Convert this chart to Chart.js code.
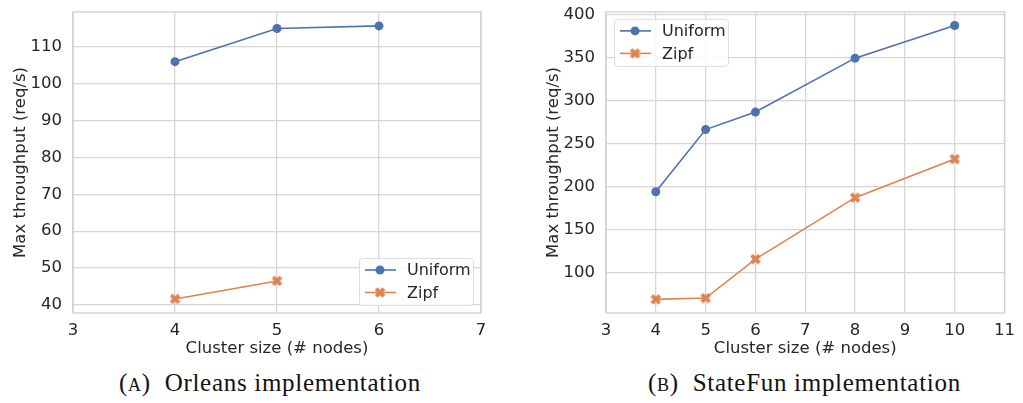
<!DOCTYPE html>
<html>
<head>
<meta charset="utf-8">
<script src="https://cdn.jsdelivr.net/npm/chart.js@4"></script>
<style>
  html, body { margin: 0; padding: 0; background: #fff; }
  body { width: 1023px; height: 403px; position: relative; overflow: hidden; }
  .box { position: absolute; top: -9px; }
  .cap { position: absolute; top: 369px; font-family: 'Liberation Serif', serif; font-size: 25px; letter-spacing: 0.7px; color: #111; white-space: pre; }
  .sc { font-size: 18px; }
</style>
</head>
<body>
<div class="box" style="left:0; width:500px; height:374px;"><canvas id="orleans"></canvas></div>
<div class="box" style="left:520px; width:503px; height:374px;"><canvas id="statefun"></canvas></div>
<div class="cap" style="left:119px;">(<span class="sc">A</span>)  Orleans implementation</div>
<div class="cap" style="left:648px;">(<span class="sc">B</span>)  StateFun implementation</div>
<script>
// Orleans (left panel)
const orleansNodes = [4, 5, 6];
const orleansUniform = [106.0, 115.0, 115.7];
const orleansZipfNodes = [4, 5];
const orleansZipf = [41.6, 46.5];
const orleansYTicks = [40, 50, 60, 70, 80, 90, 100, 110];

// StateFun (right panel)
const statefunNodes = [4, 5, 6, 8, 10];
const statefunUniform = [194, 266.4, 286.8, 349.6, 387.6];
const statefunZipf = [68.6, 70.1, 115.5, 187.1, 232.1];
const statefunYTicks = [100, 150, 200, 250, 300, 350, 400];

const COLORS = { blue: '#4c72b0', orange: '#dd8452', text: '#262626', grid: '#d6d6d6' };
const FONT = "'DejaVu Sans', sans-serif";
const FS = 16.5;

// filled "X" marker like matplotlib's 'X'
function makeXMarker(color, size) {
    const c = document.createElement('canvas');
    c.width = size; c.height = size;
    const g = c.getContext('2d');
    const m = size / 2, a = size * 0.5, w = size * 0.18;
    g.translate(m, m);
    g.rotate(Math.PI / 4);
    g.fillStyle = color;
    g.fillRect(-a, -w, 2 * a, 2 * w);
    g.fillRect(-w, -a, 2 * w, 2 * a);
    return c;
}
const xMarker = makeXMarker(COLORS.orange, 11);

const toPoints = (xs, ys) => xs.map((x, i) => ({ x, y: ys[i] }));

// spines on all four sides + legend box inside plot
const framePlugin = {
    id: 'frame',
    beforeDatasetsDraw(chart) {
        const { ctx, chartArea: a } = chart;
        ctx.save();
        ctx.strokeStyle = '#cfcfcf';
        ctx.lineWidth = 1.3;
        ctx.strokeRect(a.left, a.top, a.right - a.left, a.bottom - a.top);
        ctx.restore();
    },
    afterDraw(chart, args, opts) {
        const { ctx, chartArea: a } = chart;
        const w = 114, h = 47;
        const x0 = opts.corner === 'lr' ? a.right - 8 - w : a.left + 8;
        const y0 = opts.corner === 'lr' ? a.bottom - 8 - h : a.top + 7;
        ctx.save();
        ctx.fillStyle = 'rgba(255,255,255,0.85)';
        ctx.strokeStyle = '#dcdcdc';
        ctx.lineWidth = 1;
        ctx.beginPath();
        ctx.roundRect(x0 + 0.5, y0 + 0.5, w, h, 3);
        ctx.fill();
        ctx.stroke();
        chart.data.datasets.forEach((ds, i) => {
            const cy = y0 + 12 + i * 22.5;
            ctx.strokeStyle = ds.borderColor;
            ctx.lineWidth = 1.6;
            ctx.beginPath();
            ctx.moveTo(x0 + 6, cy);
            ctx.lineTo(x0 + 37, cy);
            ctx.stroke();
            if (ds.pointStyle === 'circle') {
                ctx.fillStyle = ds.borderColor;
                ctx.beginPath();
                ctx.arc(x0 + 21, cy, 4.5, 0, Math.PI * 2);
                ctx.fill();
            } else {
                ctx.drawImage(ds.pointStyle, x0 + 21 - 5.5, cy - 5.5);
            }
            ctx.fillStyle = COLORS.text;
            ctx.font = `16px ${FONT}`;
            ctx.textBaseline = 'middle';
            ctx.fillText(ds.label, x0 + 48, cy + 1);
        });
        ctx.restore();
    }
};

function buildChart(id, cfg) {
    return new Chart(document.getElementById(id), {
        type: 'line',
        data: {
            datasets: [
                { label: 'Uniform', data: cfg.uniform, borderColor: COLORS.blue, backgroundColor: COLORS.blue,
                  borderWidth: 1.6, pointStyle: 'circle', pointRadius: 4.5, pointHoverRadius: 4.5, pointBorderWidth: 0 },
                { label: 'Zipf', data: cfg.zipf, borderColor: COLORS.orange, backgroundColor: COLORS.orange,
                  borderWidth: 1.6, pointStyle: xMarker, pointRadius: 5.5, pointHoverRadius: 5.5 }
            ]
        },
        options: {
            responsive: true,
            maintainAspectRatio: false,
            animation: false,
            layout: { padding: { top: 0, right: cfg.padRight, bottom: 0, left: 0 } },
            plugins: { legend: { display: false }, tooltip: { enabled: false }, frame: { corner: cfg.corner } },
            scales: {
                x: {
                    type: 'linear', min: cfg.xMin, max: cfg.xMax,
                    ticks: { stepSize: 1, color: COLORS.text, font: { family: FONT, size: FS }, padding: 8, maxRotation: 0 },
                    grid: { color: COLORS.grid, lineWidth: 1.3, drawTicks: false },
                    border: { display: false },
                    title: { display: true, text: 'Cluster size (# nodes)', color: COLORS.text, font: { family: FONT, size: FS }, padding: { top: 0, bottom: 6 } },
                    afterFit: s => { s.height = 52; }
                },
                y: {
                    type: 'linear', min: cfg.yMin, max: cfg.yMax,
                    afterBuildTicks: s => { s.ticks = cfg.yTicks.map(v => ({ value: v })); },
                    ticks: { color: COLORS.text, font: { family: FONT, size: FS }, padding: 11 },
                    grid: { color: COLORS.grid, lineWidth: 1.3, drawTicks: false },
                    border: { display: false },
                    title: { display: true, text: 'Max throughput (req/s)', color: COLORS.text, font: { family: FONT, size: FS }, padding: { top: cfg.yTitlePad, bottom: 0 } },
                    afterFit: s => { s.width = cfg.yWidth; }
                }
            }
        },
        plugins: [framePlugin]
    });
}

buildChart('orleans', {
    uniform: toPoints(orleansNodes, orleansUniform),
    zipf: toPoints(orleansZipfNodes, orleansZipf),
    xMin: 3, xMax: 7, yMin: 37.8, yMax: 119.5, yTicks: orleansYTicks,
    yWidth: 73, yTitlePad: 11, padRight: 19, corner: 'lr'
});
buildChart('statefun', {
    uniform: toPoints(statefunNodes, statefunUniform),
    zipf: toPoints(statefunNodes, statefunZipf),
    xMin: 3, xMax: 11, yMin: 52.7, yMax: 403.5, yTicks: statefunYTicks,
    yWidth: 86, yTitlePad: 24, padRight: 9, corner: 'ul'
});
</script>
</body>
</html>
